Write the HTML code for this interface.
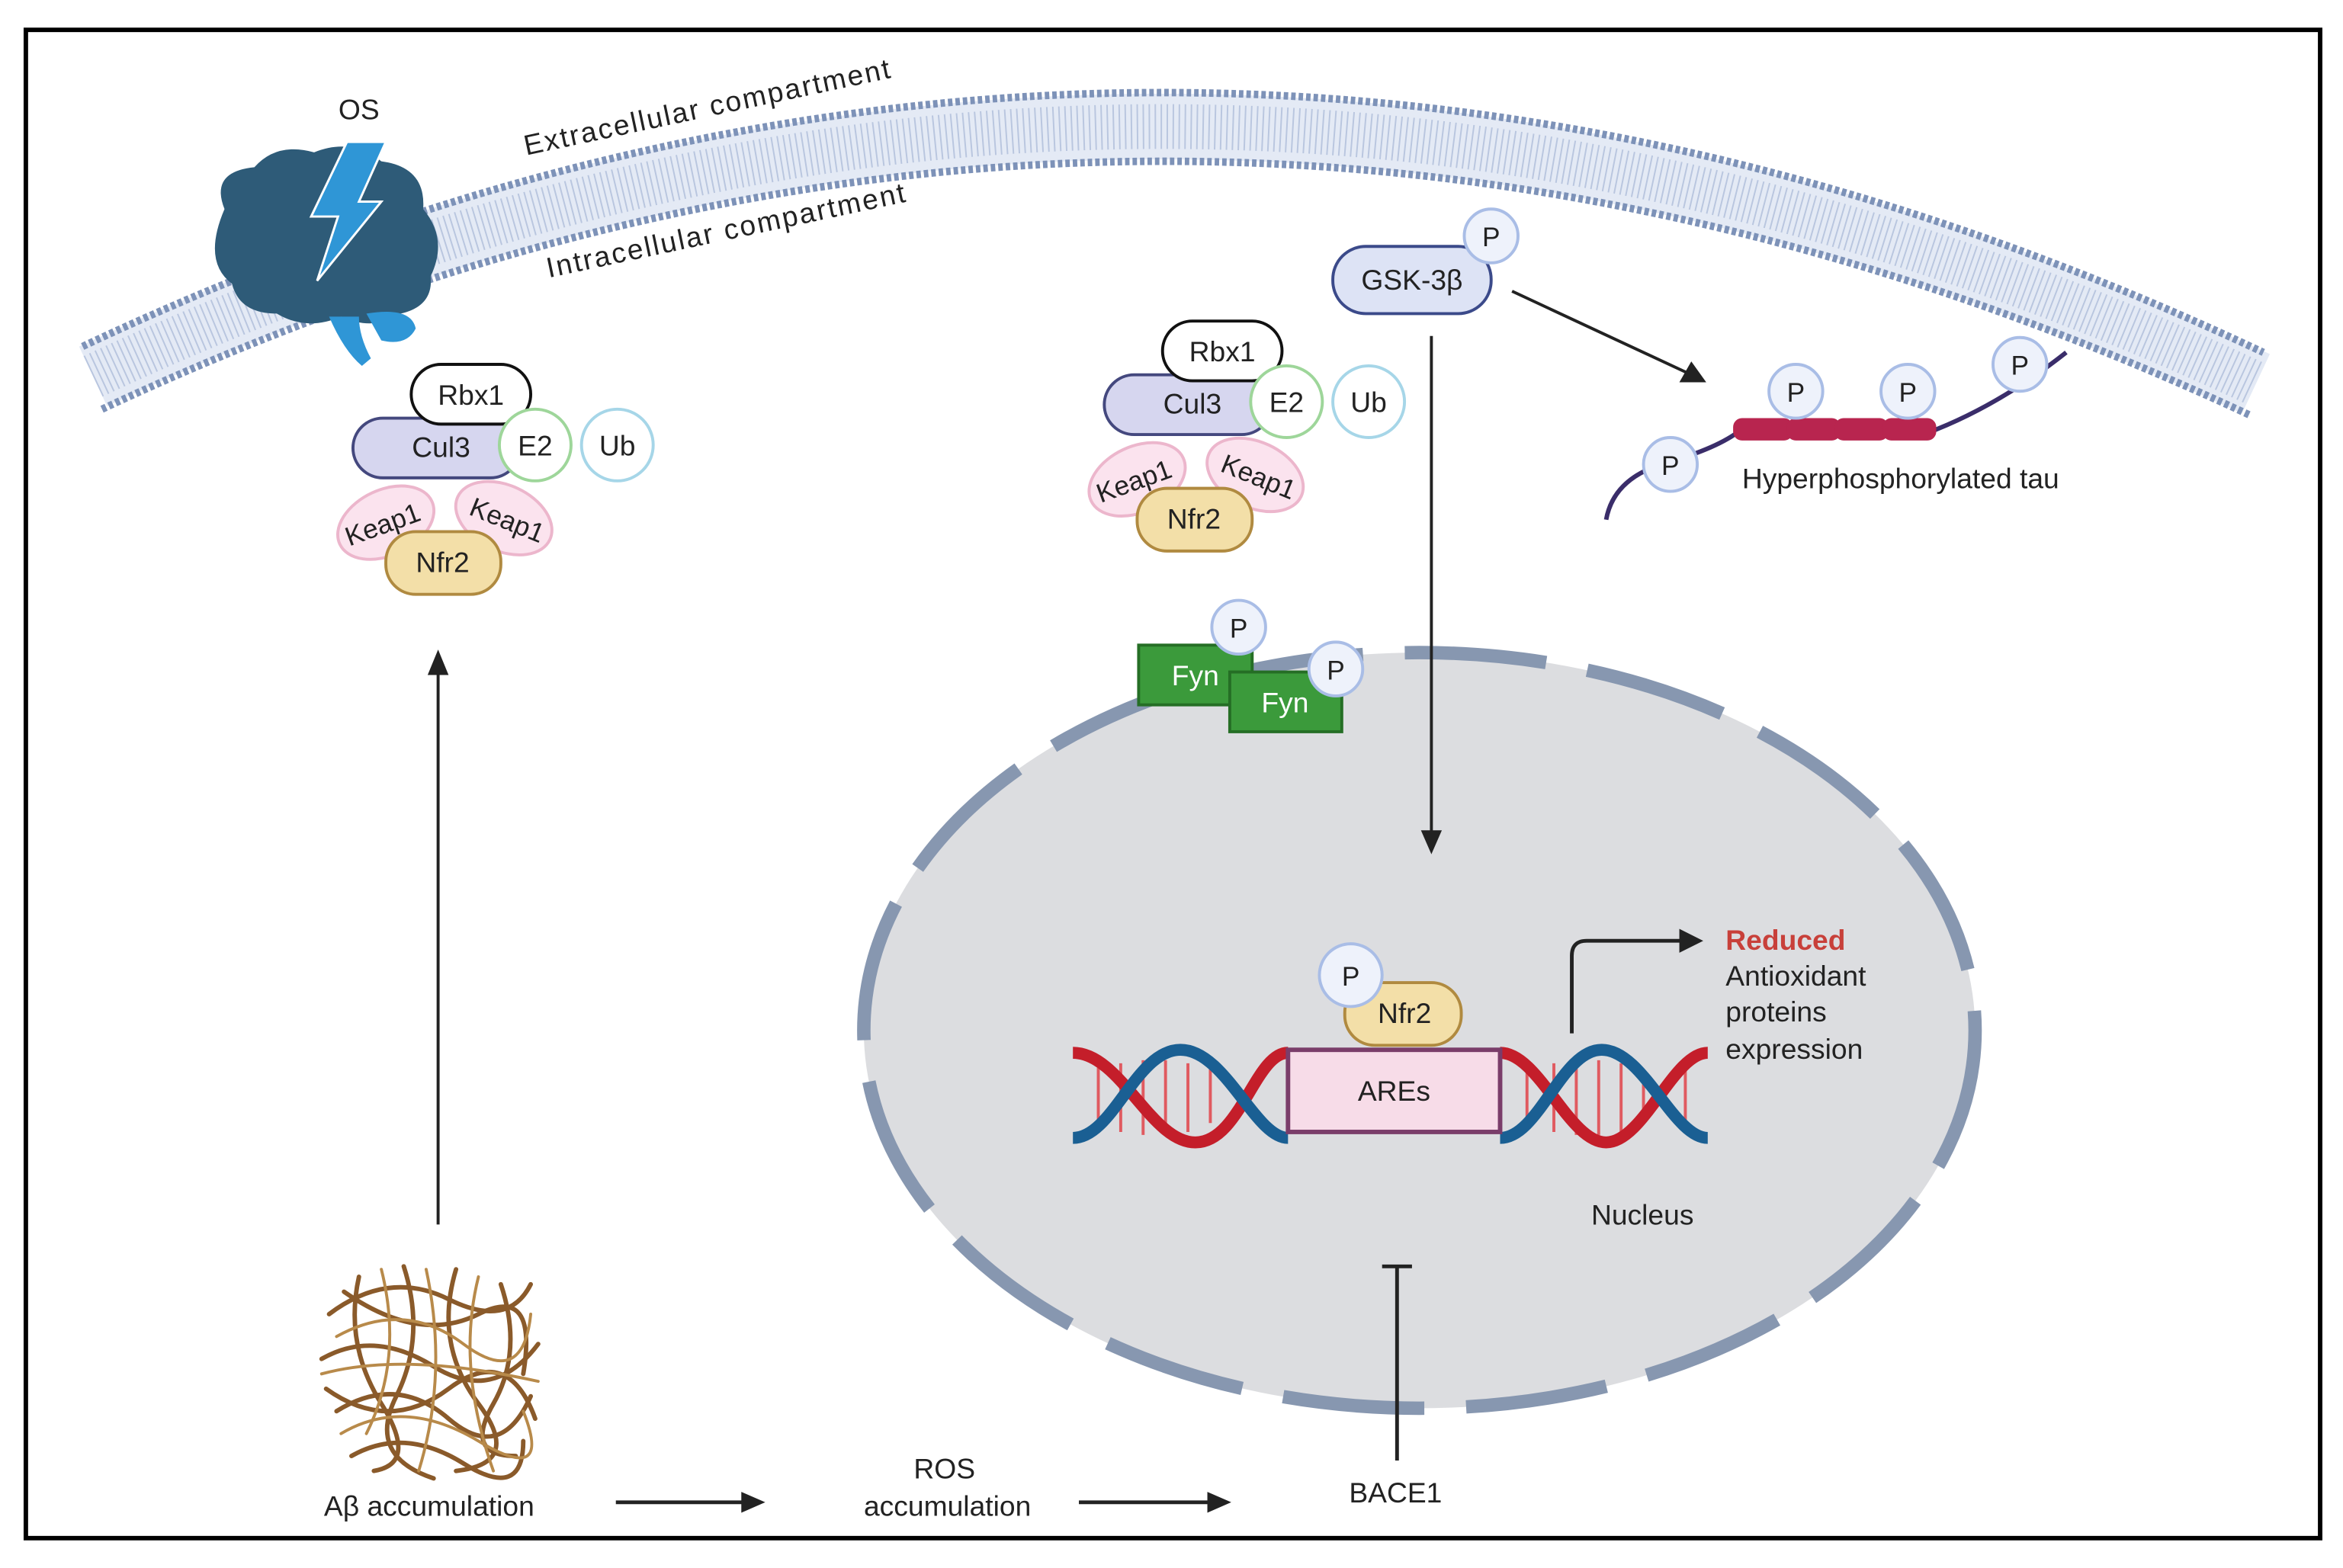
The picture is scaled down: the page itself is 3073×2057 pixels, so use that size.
<!DOCTYPE html>
<html><head><meta charset="utf-8"><style>
html,body{margin:0;padding:0;background:#fff;}
svg{display:block;}
text{font-family:"Liberation Sans",sans-serif;fill:#222;}
</style></head><body>
<svg width="3073" height="2057" viewBox="0 0 1568 1050" xmlns="http://www.w3.org/2000/svg">
<rect x="0" y="0" width="1568" height="1050" fill="#fff"/>
<rect x="17" y="20" width="1536" height="1010" fill="#fff" stroke="#000" stroke-width="3"/>

<!-- membrane -->
<path d="M62,252 Q780,-85 1510,257" fill="none" stroke="#e4eaf5" stroke-width="44"/>
<path d="M62,252 Q780,-85 1510,257" fill="none" stroke="#b9c6df" stroke-width="30" stroke-dasharray="1 3"/>
<path d="M55,232 Q780,-110 1515,236" fill="none" stroke="#7d92b8" stroke-width="5" stroke-dasharray="3 2"/>
<path d="M68,274 Q780,-60 1506,278" fill="none" stroke="#7d92b8" stroke-width="5" stroke-dasharray="3 2"/>

<text x="240" y="80" font-size="19" text-anchor="middle">OS</text>
<text x="352" y="104" font-size="19" textLength="250" transform="rotate(-12 352 104)">Extracellular compartment</text>
<text x="367" y="186" font-size="19" textLength="245" transform="rotate(-12 367 186)">Intracellular compartment</text>

<!-- brain -->
<path d="M150,140 Q140,115 170,112 Q185,95 210,102 Q235,92 255,108 Q285,112 283,140 Q300,160 288,185 Q290,205 268,210 Q250,222 228,212 Q205,222 185,210 Q160,210 155,190 Q135,175 150,140 Z" fill="#2e5b78"/>
<path d="M220,212 Q230,235 242,245 L248,240 Q240,225 240,212 Z" fill="#2f96d6"/>
<path d="M245,210 Q275,205 278,220 Q272,232 255,228 Z" fill="#2f96d6"/>
<path d="M232,95 L258,95 L240,135 L255,135 L212,188 L226,145 L208,145 Z" fill="#2f96d6" stroke="#fff" stroke-width="1.5"/>

<!-- complex 1 -->
<g id="c1">
<ellipse cx="258" cy="350" rx="34" ry="22" transform="rotate(-25 258 350)" fill="#fbe3ee" stroke="#ecb6cc" stroke-width="2"/>
<ellipse cx="337" cy="347" rx="34" ry="22" transform="rotate(25 337 347)" fill="#fbe3ee" stroke="#ecb6cc" stroke-width="2"/>
<text x="258" y="357" font-size="18" text-anchor="middle" transform="rotate(-20 258 357)">Keap1</text>
<text x="337" y="354" font-size="18" text-anchor="middle" transform="rotate(22 337 354)">Keap1</text>
<rect x="236" y="280" width="112" height="40" rx="20" fill="#d6d6ef" stroke="#44487e" stroke-width="2"/>
<text x="295" y="306" font-size="19" text-anchor="middle">Cul3</text>
<rect x="275" y="244" width="80" height="40" rx="20" fill="#fff" stroke="#111" stroke-width="2"/>
<text x="315" y="271" font-size="19" text-anchor="middle">Rbx1</text>
<circle cx="358" cy="298" r="24" fill="#fff" stroke="#9ed69a" stroke-width="2"/>
<text x="358" y="305" font-size="19" text-anchor="middle">E2</text>
<circle cx="413" cy="298" r="24" fill="#fff" stroke="#a6d6e8" stroke-width="2"/>
<text x="413" y="305" font-size="19" text-anchor="middle">Ub</text>
<rect x="258" y="356" width="77" height="42" rx="20" fill="#f3dfa8" stroke="#b08a40" stroke-width="2"/>
<text x="296" y="383" font-size="19" text-anchor="middle">Nfr2</text>
</g>
<use href="#c1" transform="translate(503,-29)"/>

<!-- GSK -->
<rect x="892" y="165" width="106" height="45" rx="22" fill="#dde3f5" stroke="#3b4a8a" stroke-width="2"/>
<text x="945" y="194" font-size="19" text-anchor="middle">GSK-3β</text>
<g id="pc"><circle cx="998" cy="158" r="18" fill="#eef2fb" stroke="#a9bde6" stroke-width="2"/><text x="998" y="165" font-size="18" text-anchor="middle">P</text></g>
<line x1="1012" y1="195" x2="1130" y2="250" stroke="#222" stroke-width="2"/>
<polygon points="1142,256 1124,256 1132,242" fill="#222"/>

<!-- tau -->
<path d="M1075,348 Q1080,320 1115,310 Q1150,300 1165,288 L1295,288 Q1340,270 1383,236" fill="none" stroke="#3a2d6a" stroke-width="3"/>
<g fill="#b8254f">
<rect x="1160" y="280" width="40" height="15" rx="6"/><rect x="1196" y="280" width="36" height="15" rx="6"/><rect x="1228" y="280" width="36" height="15" rx="6"/><rect x="1260" y="280" width="36" height="15" rx="6"/>
</g>
<use href="#pc" transform="translate(120,153)"/>
<use href="#pc" transform="translate(204,104)"/>
<use href="#pc" transform="translate(279,104)"/>
<use href="#pc" transform="translate(354,86)"/>
<text x="1166" y="327" font-size="19">Hyperphosphorylated tau</text>

<!-- nucleus -->
<ellipse cx="950" cy="690" rx="372" ry="253" fill="#dcdde0" stroke="#8797b0" stroke-width="9" stroke-dasharray="95 28"/>

<line x1="958" y1="225" x2="958" y2="558" stroke="#222" stroke-width="2"/>
<polygon points="951,556 965,556 958,572" fill="#222"/>

<!-- Fyn -->
<rect x="762" y="432" width="76" height="40" fill="#3b9a3b" stroke="#256e25" stroke-width="2"/>
<text x="800" y="459" font-size="19" text-anchor="middle" style="fill:#fff">Fyn</text>
<rect x="823" y="450" width="75" height="40" fill="#3b9a3b" stroke="#256e25" stroke-width="2"/>
<text x="860" y="477" font-size="19" text-anchor="middle" style="fill:#fff">Fyn</text>
<use href="#pc" transform="translate(-169,262)"/>
<use href="#pc" transform="translate(-104,290)"/>

<!-- DNA -->
<g stroke-width="2">
<g stroke="#e05a60"><line x1="735" y1="715" x2="735" y2="752"/><line x1="750" y1="712" x2="750" y2="758"/><line x1="765" y1="710" x2="765" y2="760"/><line x1="780" y1="710" x2="780" y2="760"/><line x1="795" y1="712" x2="795" y2="758"/><line x1="810" y1="716" x2="810" y2="752"/>
<line x1="1022" y1="715" x2="1022" y2="752"/><line x1="1040" y1="712" x2="1040" y2="758"/><line x1="1055" y1="710" x2="1055" y2="760"/><line x1="1070" y1="710" x2="1070" y2="760"/><line x1="1085" y1="712" x2="1085" y2="758"/><line x1="1100" y1="716" x2="1100" y2="752"/><line x1="1128" y1="712" x2="1128" y2="758"/></g>
</g>
<path d="M718,705 C750,705 770,765 800,765 C830,765 840,705 862,705" fill="none" stroke="#c41e2a" stroke-width="8"/>
<path d="M718,762 C745,762 760,703 790,703 C820,703 840,762 862,762" fill="none" stroke="#1a5f93" stroke-width="8"/>
<path d="M1004,705 C1030,705 1050,765 1075,765 C1100,765 1120,705 1143,705" fill="none" stroke="#c41e2a" stroke-width="8"/>
<path d="M1004,762 C1030,762 1045,703 1072,703 C1100,703 1120,762 1143,762" fill="none" stroke="#1a5f93" stroke-width="8"/>
<rect x="862" y="703" width="142" height="55" fill="#f7dce8" stroke="#7a3d6a" stroke-width="3"/>
<text x="933" y="737" font-size="19" text-anchor="middle">AREs</text>
<rect x="900" y="658" width="78" height="42" rx="20" fill="#f3dfa8" stroke="#b08a40" stroke-width="2"/>
<text x="940" y="685" font-size="19" text-anchor="middle">Nfr2</text>
<circle cx="904" cy="653" r="21" fill="#eef2fb" stroke="#a9bde6" stroke-width="2"/><text x="904" y="660" font-size="18" text-anchor="middle">P</text>

<path d="M1052,692 L1052,640 Q1052,630 1062,630 L1126,630" fill="none" stroke="#222" stroke-width="2.5"/>
<polygon points="1124,622 1140,630 1124,638" fill="#222"/>
<text x="1155" y="636" font-size="19" style="fill:#c8403a;font-weight:bold">Reduced</text>
<text x="1155" y="660" font-size="19">Antioxidant</text>
<text x="1155" y="684" font-size="19">proteins</text>
<text x="1155" y="709" font-size="19">expression</text>
<text x="1065" y="820" font-size="19">Nucleus</text>

<line x1="935" y1="978" x2="935" y2="848" stroke="#222" stroke-width="2.5"/>
<line x1="925" y1="848" x2="945" y2="848" stroke="#222" stroke-width="2.5"/>

<line x1="293" y1="820" x2="293" y2="450" stroke="#222" stroke-width="2"/>
<polygon points="286,452 300,452 293,435" fill="#222"/>

<!-- Abeta tangle -->
<g fill="none" stroke="#8a5a2a" stroke-width="3" stroke-linecap="round">
<path d="M220,880 Q260,850 300,870 T355,860"/>
<path d="M215,910 Q250,890 290,915 T360,900"/>
<path d="M225,945 Q265,920 300,950 T355,935"/>
<path d="M235,975 Q270,955 310,980 T350,965"/>
<path d="M240,855 Q230,900 255,940 T250,985"/>
<path d="M270,848 Q285,895 265,935 T290,990"/>
<path d="M305,850 Q290,900 320,940 T305,985"/>
<path d="M335,860 Q350,905 330,940 T345,975"/>
<path d="M218,930 Q260,960 300,930 T358,950"/>
<path d="M230,865 Q280,900 320,880 T350,920"/>
</g>
<g fill="none" stroke="#b88a4a" stroke-width="2" stroke-linecap="round">
<path d="M225,895 Q270,870 310,900 T355,880"/>
<path d="M228,960 Q270,935 320,965 T350,945"/>
<path d="M255,850 Q270,910 245,960"/>
<path d="M320,855 Q305,915 330,985"/>
<path d="M215,920 Q270,905 360,925"/>
<path d="M285,850 Q300,920 280,985"/>
</g>
<text x="287" y="1015" font-size="19" text-anchor="middle">Aβ accumulation</text>

<line x1="412" y1="1006" x2="498" y2="1006" stroke="#222" stroke-width="2.5"/>
<polygon points="496,999 512,1006 496,1013" fill="#222"/>
<text x="632" y="990" font-size="19" text-anchor="middle">ROS</text>
<text x="634" y="1015" font-size="19" text-anchor="middle">accumulation</text>
<line x1="722" y1="1006" x2="810" y2="1006" stroke="#222" stroke-width="2.5"/>
<polygon points="808,999 824,1006 808,1013" fill="#222"/>
<text x="934" y="1006" font-size="19" text-anchor="middle">BACE1</text>
</svg>
</body></html>
